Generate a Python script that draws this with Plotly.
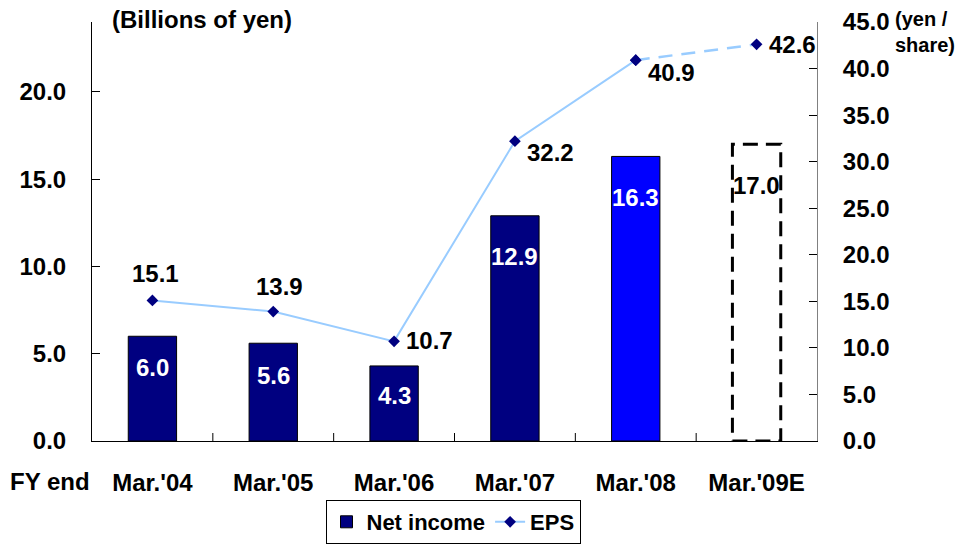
import plotly.graph_objects as go

# Fiscal years and figures
fiscal_years = ["Mar.'04", "Mar.'05", "Mar.'06", "Mar.'07", "Mar.'08", "Mar.'09E"]
net_income = [6.0, 5.6, 4.3, 12.9, 16.3, 17.0]      # billions of yen
eps = [15.1, 13.9, 10.7, 32.2, 40.9, 42.6]            # yen / share

left_ticks = [0, 5, 10, 15, 20]
right_ticks = [0, 5, 10, 15, 20, 25, 30, 35, 40, 45]

NAVY = "#000080"
BLUE = "#0000FF"
LIGHT = "#99CCFF"
FONT = "Liberation Sans, Arial, sans-serif"
FS = 24

bar_colors = [NAVY, NAVY, NAVY, NAVY, BLUE, "white"]
bar_lines = ["black"] * 5 + ["rgba(0,0,0,0)"]
bar_text_colors = ["white"] * 5 + ["black"]
# pixel drop of each value label below its bar top
bar_label_drop = [31, 32, 30, 41, 41, 41]
# EPS label placement: (xanchor, xshift, yshift)
eps_label_place = [
    ("center", 3, 27),
    ("center", 6, 25),
    ("left", 10, 1),
    ("left", 10, -11),
    ("left", 10, -12),
    ("left", 10, 0),
]

n_actual = 5  # last period is an estimate

fig = go.Figure()

fig.add_trace(go.Bar(
    x=list(range(len(fiscal_years))), y=net_income, name="Net income",
    marker=dict(color=bar_colors, line=dict(color=bar_lines, width=1)),
    width=0.4, yaxis="y", hoverinfo="skip",
))

fig.add_trace(go.Scatter(
    x=list(range(n_actual)), y=eps[:n_actual], name="EPS", yaxis="y2",
    mode="lines+markers",
    line=dict(color=LIGHT, width=2),
    marker=dict(symbol="diamond", size=9, color=NAVY),
))
fig.add_trace(go.Scatter(
    x=list(range(n_actual - 1, len(fiscal_years))), y=eps[n_actual - 1:],
    yaxis="y2", mode="lines+markers", showlegend=False,
    line=dict(color=LIGHT, width=2.5, dash="14px,9px"),
    marker=dict(symbol="diamond", size=9, color=NAVY),
))

# Estimated bar outlined with a dashed frame
est = len(fiscal_years) - 1
fig.add_shape(
    type="rect", xref="x", yref="y",
    x0=est - 0.2, x1=est + 0.2, y0=0, y1=net_income[est],
    line=dict(color="black", width=3, dash="15px,8px"),
    fillcolor="rgba(0,0,0,0)",
)

annotations = []
for i, v in enumerate(net_income):
    annotations.append(dict(
        x=i, y=v, xref="x", yref="y", text=f"{v:.1f}", showarrow=False,
        yshift=-bar_label_drop[i], yanchor="middle",
        font=dict(family=FONT, size=FS, color=bar_text_colors[i], weight="bold"),
    ))
for i, v in enumerate(eps):
    anchor, xs, ys = eps_label_place[i]
    annotations.append(dict(
        x=i, y=v, xref="x", yref="y2", text=f"{v:.1f}", showarrow=False,
        xanchor=anchor, yanchor="middle", xshift=xs, yshift=ys,
        font=dict(family=FONT, size=FS, color="black", weight="bold"),
    ))

annotations += [
    dict(x=110, y=20, xref="paper", yref="paper", xanchor="left", yanchor="middle",
         text="(Billions of yen)", showarrow=False,
         font=dict(family=FONT, size=24, color="black", weight="bold")),
    dict(x=893, y=32, xref="paper", yref="paper", xanchor="left", yanchor="middle",
         text="(yen /<br>share)", showarrow=False, align="left",
         font=dict(family=FONT, size=20, color="black", weight="bold")),
    dict(x=8, y=482, xref="paper", yref="paper", xanchor="left", yanchor="middle",
         text="FY end", showarrow=False,
         font=dict(family=FONT, size=FS, color="black", weight="bold")),
]

# convert pixel-placed annotations to paper coords
L, R, T, B = 92, 143, 22, 103
W, H = 960 - L - R, 544 - T - B
for a in annotations[-3:]:
    a["x"] = (a["x"] - L) / W
    a["y"] = (544 - B - a["y"]) / H

tick_font = dict(family=FONT, size=FS, color="black", weight="bold")

fig.update_layout(
    width=960, height=544,
    margin=dict(l=L, r=R, t=T, b=B, autoexpand=False),
    paper_bgcolor="white", plot_bgcolor="white",
    showlegend=True,
    legend=dict(
        orientation="h", x=(453 - L) / W, xanchor="center",
        y=(441 - 544) / H, yanchor="bottom",
        bordercolor="black", borderwidth=1, bgcolor="white",
        font=dict(family=FONT, size=22, color="black", weight="bold"),
        tracegroupgap=0,
    ),
    xaxis=dict(
        tickmode="array", tickvals=list(range(len(fiscal_years))), ticktext=fiscal_years,
        range=[-0.5, len(fiscal_years) - 0.5],
        showline=True, linecolor="black", linewidth=1,
        ticks="", showgrid=False, zeroline=False, automargin=False,
        tickfont=tick_font, ticklabelstandoff=20,
    ),
    yaxis=dict(
        range=[0, 24], tickvals=left_ticks, ticktext=[f"{t:.1f}" for t in left_ticks],
        showline=True, linecolor="black", linewidth=1,
        ticks="inside", ticklen=8, tickcolor="black",
        showgrid=False, zeroline=False, automargin=False,
        tickfont=tick_font, ticklabelstandoff=20,
    ),
    yaxis2=dict(
        range=[0, 45], tickvals=right_ticks, ticktext=[f"{t:.1f}" for t in right_ticks],
        overlaying="y", side="right",
        showline=True, linecolor="#808080", linewidth=1,
        ticks="inside", ticklen=8, tickcolor="black",
        showgrid=False, zeroline=False, automargin=False,
        tickfont=tick_font, ticklabelstandoff=20,
    ),
    annotations=annotations,
)

# category boundary ticks on the bottom axis
for k in range(1, len(fiscal_years)):
    fig.add_shape(type="line", xref="x", yref="paper", x0=k - 0.5, x1=k - 0.5,
                  y0=0, y1=8 / H, line=dict(color="black", width=1))

fig.write_html("out.html")
